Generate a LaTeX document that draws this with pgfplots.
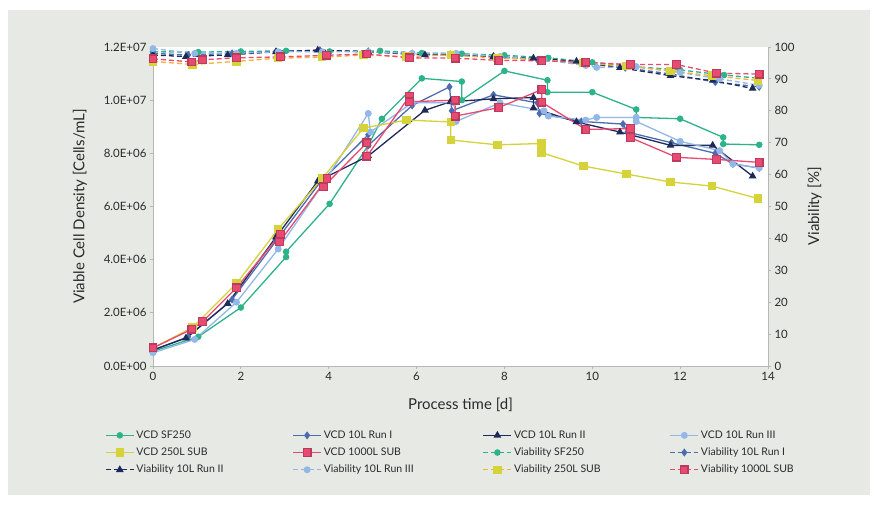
\documentclass[border=0pt]{standalone}
\usepackage{pgfplots}
\pgfplotsset{compat=1.18}
\usepackage{fontspec}
\setmainfont{Lato}

\definecolor{bggray}{HTML}{E7E9E5}
\definecolor{axisgray}{HTML}{B5B9B5}
\definecolor{txt}{HTML}{2A2A2A}
\definecolor{cteal}{HTML}{2DB38A}
\definecolor{cblue}{HTML}{4C6CAE}
\definecolor{cnavy}{HTML}{1E2A5A}
\definecolor{clight}{HTML}{93B7E6}
\definecolor{cyellow}{HTML}{D5D23A}
\definecolor{corange}{HTML}{F2B33D}
\definecolor{cpink}{HTML}{E84A72}

\pgfplotsset{
  sf/.style={color=cteal, mark=*, mark size=2.6pt},
  ri/.style={color=cblue, mark=diamond*, mark size=3pt},
  rii/.style={color=cnavy, mark=triangle*, mark size=3.2pt},
  riii/.style={color=clight, mark=*, mark size=2.8pt},
  sub250/.style={color=cyellow, mark=square*, mark size=3.6pt},
  sub1000/.style={color=cpink, mark=square*, mark size=3.8pt, mark options={fill=cpink, draw=cpink!80!black}},
  via/.style={dash pattern=on 5pt off 3pt},
  common/.style={
    scale only axis, width=615pt, height=319pt,
    at={(153pt,139pt)}, anchor=south west,
    xmin=0, xmax=14, clip=false,
    axis line style={axisgray, line width=0.8pt},
    tick style={axisgray, line width=0.8pt},
    major tick length=3pt, tick align=outside,
    ticklabel style={font=\fontsize{11.5}{13}\selectfont, text=txt},
    /pgf/number format/assume math mode=true,
    every axis plot/.append style={line width=1.3pt},
  },
}

\begin{document}
\begin{tikzpicture}
\path[use as bounding box] (0pt,0pt) rectangle (877pt,505pt);
\fill[white] (0pt,0pt) rectangle (877pt,505pt);
\fill[bggray] (8pt,10pt) rectangle (870pt,495pt);

\begin{axis}[common,
  axis x line*=bottom, axis y line*=left,
  axis background/.style={fill=white},
  ymin=0, ymax=12,
  xtick={0,2,...,14},
  ytick={0,2,4,6,8,10,12},
  yticklabels={0.0E+00,2.0E+06,4.0E+06,6.0E+06,8.0E+06,1.0E+07,1.2E+07},
  xlabel={Process time [d]},
  ylabel={Viable Cell Density [Cells/mL]},
  xlabel style={at={(axis description cs:0.5,-0.122)}, anchor=center, font=\fontsize{15}{18}\selectfont, text=txt},
  ylabel style={at={(axis description cs:-0.119,0.5)}, anchor=center, rotate=0, font=\fontsize{15}{18}\selectfont, text=txt},
  legend columns=4,
  legend cell align=left,
  legend image code/.code={\draw[mark repeat=2, mark phase=2] plot coordinates {(0pt,0pt) (14pt,0pt) (28pt,0pt)};},
  legend style={at={(axis description cs:-0.083,-0.19)}, anchor=north west,
    draw=none, fill=none, font=\fontsize{10.5}{12}\selectfont, text=txt,
    row sep=4pt,
    /tikz/every even column/.append style={column sep=67pt}},
]
\addplot[sf] coordinates {(0,0.55) (1.03,1.1) (2.0,2.2) (3.03,4.1) (3.03,4.3) (4.02,6.1) (4.9,8.3) (5.21,9.3) (6.12,10.82) (7.03,10.7) (7.03,10.0) (8.0,11.1) (8.98,10.75) (8.98,10.3) (10.0,10.3) (11.0,9.65) (11.0,9.35) (12.0,9.3) (12.98,8.6) (12.98,8.35) (13.8,8.32)};
\addlegendentry{VCD SF250}
\addplot[ri] coordinates {(0,0.6) (0.8,1.1) (1.8,2.5) (2.8,4.7) (3.8,6.9) (4.9,8.7) (4.9,8.3) (5.9,9.8) (6.75,10.5) (6.8,9.6) (7.75,10.2) (8.75,9.9) (8.8,9.5) (9.75,9.2) (10.7,9.1) (10.8,8.8) (11.8,8.4) (12.8,8.0) (13.2,7.6) (13.8,7.45)};
\addlegendentry{VCD 10L Run I}
\addplot[rii] coordinates {(0,0.6) (0.75,1.05) (1.7,2.35) (2.8,4.85) (3.75,6.95) (4.9,7.9) (6.19,9.62) (6.77,9.94) (7.75,10.05) (8.66,10.1) (8.66,9.7) (9.64,9.18) (10.63,8.8) (11.78,8.3) (12.74,8.3) (13.65,7.14)};
\addlegendentry{VCD 10L Run II}
\addplot[riii] coordinates {(0,0.5) (0.95,1.0) (1.9,2.4) (2.85,4.4) (3.85,6.8) (4.9,9.5) (4.95,8.8) (5.9,9.9) (6.85,9.9) (6.9,9.2) (7.9,9.9) (8.9,9.6) (9.0,9.4) (9.85,9.25) (10.1,9.35) (11.0,9.35) (11.0,9.2) (12.0,8.45) (12.9,8.1) (13.2,7.6) (13.8,7.45)};
\addlegendentry{VCD 10L Run III}
\addplot[sub250] coordinates {(0,0.68) (0.9,1.45) (1.9,3.1) (2.85,5.15) (3.85,7.05) (4.79,8.95) (5.77,9.25) (6.78,9.18) (6.78,8.5) (7.84,8.32) (8.84,8.37) (8.84,8.03) (9.8,7.52) (10.78,7.22) (11.78,6.92) (12.72,6.77) (13.77,6.3)};
\addlegendentry{VCD 250L SUB}
\addplot[sub1000] coordinates {(0,0.68) (0.88,1.38) (1.13,1.67) (1.9,2.94) (2.9,4.96) (2.88,4.67) (3.96,7.05) (3.88,6.74) (4.87,8.4) (4.87,7.89) (5.84,10.15) (5.84,9.94) (6.88,10.0) (6.88,9.4) (7.87,9.72) (8.85,10.4) (8.85,9.92) (9.85,8.9) (10.87,8.93) (10.87,8.59) (11.92,7.85) (12.83,7.77) (13.8,7.66)};
\addlegendentry{VCD 1000L SUB}
\addlegendimage{sf, via, mark options={solid}}
\addlegendentry{Viability SF250}
\addlegendimage{ri, via, mark options={solid}}
\addlegendentry{Viability 10L Run I}
\addlegendimage{rii, via, mark options={solid}}
\addlegendentry{Viability 10L Run II}
\addlegendimage{riii, via, mark options={solid}}
\addlegendentry{Viability 10L Run III}
\addlegendimage{corange, via, mark=square*, mark size=3.6pt, mark options={solid, fill=cyellow, draw=cyellow}}
\addlegendentry{Viability 250L SUB}
\addlegendimage{sub1000, via, mark options={solid, fill=cpink, draw=cpink!80!black}}
\addlegendentry{Viability 1000L SUB}
\end{axis}

\begin{axis}[common,
  axis x line=none, axis y line*=right,
  ymin=0, ymax=100,
  ytick={0,10,...,100},
  ylabel={Viability [\%]},
  ylabel style={at={(axis description cs:1.076,0.5)}, anchor=center, rotate=0, font=\fontsize{15}{18}\selectfont, text=txt},
]
\addplot[sf, via, mark options={solid}] coordinates {(0,98.5) (1.03,98.4) (2.0,98.6) (3.03,98.8) (4.02,98.6) (5.17,98.8) (6.12,98.1) (7.03,97.9) (8.0,97.4) (9.0,96.6) (10.0,95.2) (11.0,93.8) (12.0,92.8) (13.0,91.2) (13.8,90.2)};
\addplot[ri, via, mark options={solid}] coordinates {(0,98) (0.8,97.5) (1.8,98) (2.8,98.5) (3.8,99) (4.9,98.5) (5.9,98) (6.75,97.5) (7.75,97) (8.75,96) (9.75,95) (10.75,93.5) (11.8,91.5) (12.8,89) (13.8,87.5)};
\addplot[rii, via, mark options={solid}] coordinates {(0,97.5) (0.75,97) (1.7,97.5) (2.8,98.5) (3.75,99) (4.9,98.5) (6.19,97.5) (6.77,97.5) (7.75,97) (8.66,96.5) (9.64,95.5) (10.63,93.5) (11.78,91) (12.74,89.5) (13.65,87)};
\addplot[riii, via, mark options={solid}] coordinates {(0,99.5) (0.95,98) (1.9,98) (2.85,98.5) (3.85,98.5) (4.9,98.5) (5.9,98) (6.9,98) (7.9,97) (8.9,96) (9.85,94.2) (10.1,93.6) (11.0,93.8) (12.0,92) (12.9,90) (13.8,88)};
\addplot[corange, via, mark=square*, mark size=3.6pt, mark options={solid, fill=cyellow, draw=cyellow}] coordinates {(0,95.5) (0.9,94.5) (1.9,95.5) (2.85,96.5) (3.85,96.8) (4.79,97.5) (5.77,97) (6.78,97.5) (7.84,96.5) (8.84,96) (9.8,95) (10.78,94) (11.78,92.5) (12.72,91) (13.77,89.5)};
\addplot[sub1000, via, mark options={solid, fill=cpink, draw=cpink!80!black}] coordinates {(0,96.3) (0.88,95.3) (1.13,96) (1.9,96.6) (2.9,96.9) (3.95,97.4) (4.87,97.8) (5.84,96.6) (6.88,96.5) (7.87,95.8) (8.85,95.7) (9.85,95.2) (10.87,94.5) (11.92,94.5) (12.83,91.8) (13.8,91.5)};
\end{axis}
\end{tikzpicture}
\end{document}
